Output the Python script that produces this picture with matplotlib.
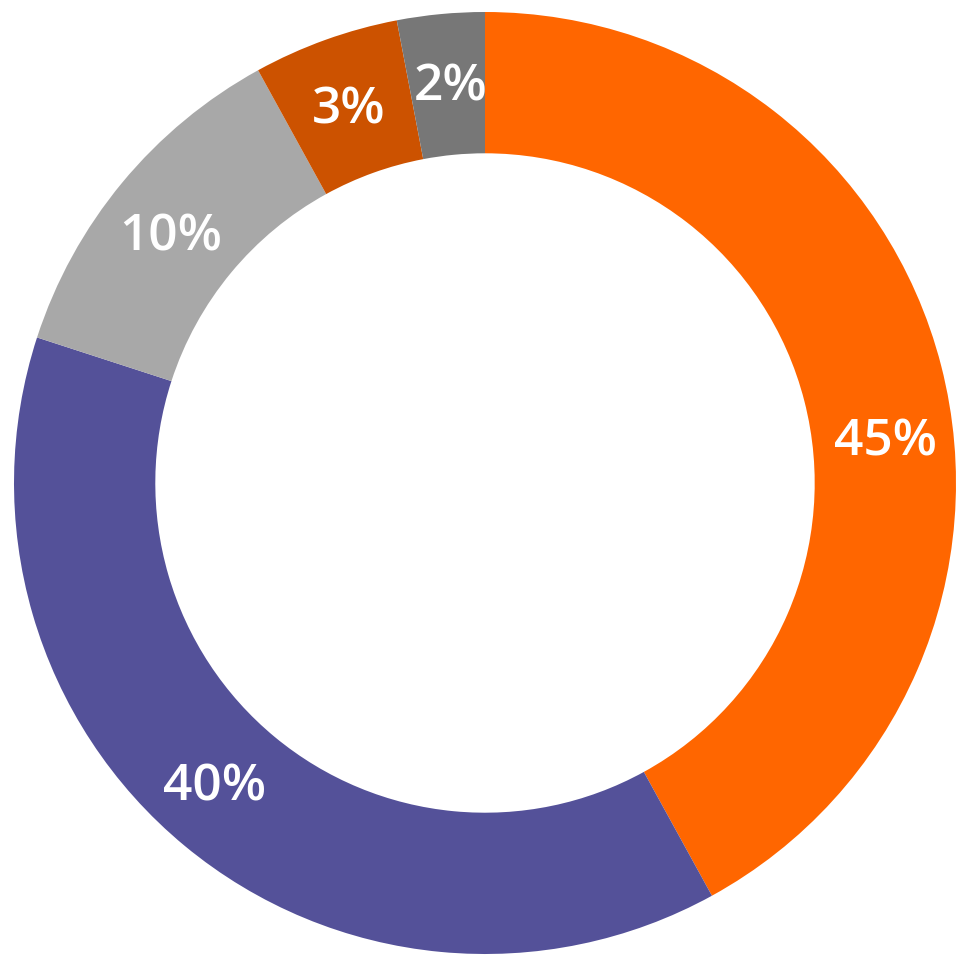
import numpy as np
import matplotlib.pyplot as plt

# доли секторов (по углам на картинке) и подписи как на исходнике
shares = [42, 38, 12, 5, 3]
labels = ['45%', '40%', '10%', '3%', '2%']
colors = ['#FF6600', '#545199', '#A8A8A8', '#CC5200', '#777777']
# небольшой сдвиг подписи по углу (градусы)
label_shift = [-7.8, -2.6, 1.0, 0, -0.5]

fig = plt.figure(figsize=(9.75, 9.76), dpi=100)
ax = fig.add_axes([0, 0, 1, 1])

wedges, _ = ax.pie(shares, colors=colors, startangle=90, counterclock=False,
                   radius=1.0, wedgeprops=dict(width=0.30, edgecolor='none'))

for w, lab, d in zip(wedges, labels, label_shift):
    ang = np.deg2rad((w.theta1 + w.theta2) / 2 + d)
    r = 0.855
    ax.text(r * np.cos(ang), r * np.sin(ang), lab, ha='center', va='center_baseline',
            color='white', fontsize=37, fontweight='semibold', family='Open Sans')

ax.set_xlim(-485 / 471, 490 / 471)
ax.set_ylim(-493 / 471, 483 / 471)
ax.set_aspect('auto')
ax.axis('off')

fig.savefig('out.png', dpi=100)
